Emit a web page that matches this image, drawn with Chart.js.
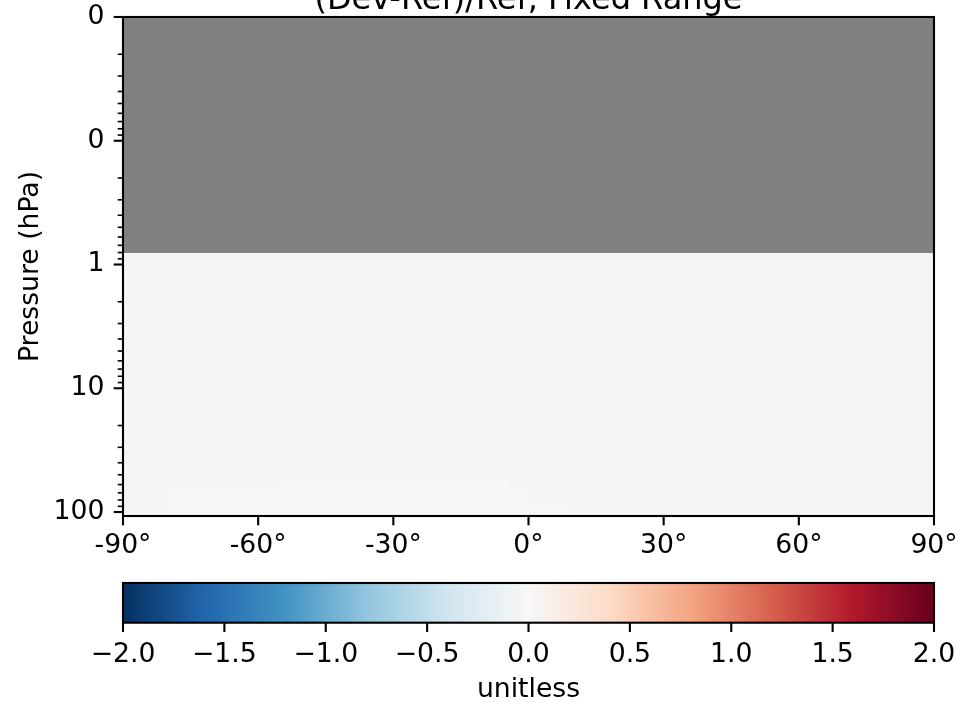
<!DOCTYPE html>
<html><head><meta charset="utf-8">
<script src="https://cdn.jsdelivr.net/npm/chart.js@4.4.0/dist/chart.umd.min.js"></script>
<style>
html,body{margin:0;padding:0;background:#fff;overflow:hidden;width:957px;height:703px;}
#main{position:absolute;left:0;top:0;}
#cbar{position:absolute;left:0;top:560px;}
</style></head><body>
<canvas id="main" width="957" height="560"></canvas>
<canvas id="cbar" width="957" height="143"></canvas>
<script>
// ---------- data ----------
const titleText = '(Dev-Ref)/Ref, Fixed Range';
const yAxisLabel = 'Pressure (hPa)';
const colorbarLabel = 'unitless';

const latitudeEdges = [-90, -80, -56, -32, -4, 0, 8, 30, 60, 90];
const latitudeTicks = [-90, -60, -30, 0, 30, 60, 90];

// pressure cell edges (hPa), top to bottom; above 0.8 hPa there is no data
const pressureEdges = [0.8, 2, 5, 12, 30, 55, 65, 78, 92, 108];
const pressureRange = [0.01, 107.7];
const pressureMajorTicks = [0.01, 0.1, 1, 10, 100];
const pressureMajorLabels = ['0', '0', '1', '10', '100'];
const pressureMinorTicks = [0.02,0.03,0.04,0.05,0.06,0.07,0.08,0.09,
                            0.2,0.3,0.4,0.5,0.6,0.7,0.8,0.9,
                            2,3,4,5,6,7,8,9,
                            20,30,40,50,60,70,80,90];

// relative difference per pressure row (top to bottom), per latitude bin
const row_0p8_2   = [-0.03,-0.03,-0.03,-0.03,-0.03,-0.03,-0.03,-0.03,-0.03];
const row_2_5     = [-0.03,-0.03,-0.03,-0.03,-0.03,-0.03,-0.03,-0.03,-0.03];
const row_5_12    = [-0.03,-0.03,-0.03,-0.03,-0.03,-0.03,-0.03,-0.03,-0.03];
const row_12_30   = [-0.03,-0.03,-0.03,-0.03,-0.03,-0.03,-0.03,-0.03,-0.03];
const row_30_55   = [-0.03,-0.03,-0.03,-0.03,-0.03,-0.03,-0.03,-0.03,-0.03];
const row_55_65   = [-0.03,-0.03,-0.015,-0.015,-0.03,-0.03,-0.03,-0.03,-0.03];
const row_65_78   = [-0.03,-0.015,-0.015,-0.015,-0.015,-0.03,-0.03,-0.03,-0.03];
const row_78_92   = [-0.03,-0.015,-0.015,-0.015,-0.015,-0.015,-0.03,-0.03,-0.03];
const row_92_108  = [-0.015,-0.015,-0.015,-0.015,-0.015,-0.015,-0.015,-0.03,-0.03];
const relDiffRows = [row_0p8_2, row_2_5, row_5_12, row_12_30, row_30_55, row_55_65, row_65_78, row_78_92, row_92_108];

const colorbarRange = [-2, 2];
const colorbarTicks = [-2, -1.5, -1, -0.5, 0, 0.5, 1, 1.5, 2];
const rdbuR = ['#053061','#2166ac','#4393c3','#92c5de','#d1e5f0','#f7f7f7','#fddbc7','#f4a582','#d6604d','#b2182b','#67001f'];
const missingColor = '#808080';

// ---------- helpers ----------
const FONT = 'DejaVu Sans';
const FS = 26.67;
function hexRgb(h){return [parseInt(h.slice(1,3),16),parseInt(h.slice(3,5),16),parseInt(h.slice(5,7),16)];}
function cmap(v){
  const t = Math.min(1, Math.max(0, (v - colorbarRange[0]) / (colorbarRange[1] - colorbarRange[0])));
  const n = rdbuR.length - 1;
  const f = t * n;
  const i = Math.min(n - 1, Math.floor(f));
  const u = f - i;
  const a = hexRgb(rdbuR[i]), b = hexRgb(rdbuR[i + 1]);
  return 'rgb(' + [0,1,2].map(k => Math.round(a[k] + (b[k] - a[k]) * u)).join(',') + ')';
}

const mainPlugin = {
  id: 'heatmap',
  beforeDatasetsDraw(chart) {
    const {ctx, chartArea: ca, scales: {x, y}} = chart;
    ctx.save();
    ctx.beginPath(); ctx.rect(ca.left, ca.top, ca.right - ca.left, ca.bottom - ca.top); ctx.clip();
    ctx.fillStyle = missingColor;
    ctx.fillRect(ca.left, ca.top, ca.right - ca.left, ca.bottom - ca.top);
    relDiffRows.forEach((row, i) => {
      const y0 = Math.round(y.getPixelForValue(pressureEdges[i]));
      const y1 = Math.round(y.getPixelForValue(pressureEdges[i + 1]));
      row.forEach((v, j) => {
        const x0 = Math.round(x.getPixelForValue(latitudeEdges[j]));
        const x1 = Math.round(x.getPixelForValue(latitudeEdges[j + 1]));
        ctx.fillStyle = cmap(v);
        ctx.fillRect(x0, Math.min(y0, y1), x1 - x0, Math.abs(y1 - y0));
      });
    });
    ctx.restore();
  },
  afterDraw(chart) {
    const {ctx, chartArea: ca, scales: {x, y}} = chart;
    ctx.save();
    ctx.strokeStyle = '#000';
    ctx.lineWidth = 2.1;
    latitudeTicks.forEach(v => {
      const px = x.getPixelForValue(v);
      ctx.beginPath(); ctx.moveTo(px, ca.bottom); ctx.lineTo(px, ca.bottom + 9.3); ctx.stroke();
    });
    pressureMajorTicks.forEach(v => {
      const py = y.getPixelForValue(v);
      ctx.beginPath(); ctx.moveTo(ca.left, py); ctx.lineTo(ca.left - 9.3, py); ctx.stroke();
    });
    ctx.lineWidth = 1.6;
    pressureMinorTicks.forEach(v => {
      const py = y.getPixelForValue(v);
      ctx.beginPath(); ctx.moveTo(ca.left, py); ctx.lineTo(ca.left - 5.3, py); ctx.stroke();
    });
    ctx.lineWidth = 2.1;
    ctx.strokeRect(ca.left, ca.top, ca.right - ca.left, ca.bottom - ca.top);
    ctx.fillStyle = '#000';
    ctx.font = '32px "' + FONT + '"';
    ctx.textAlign = 'center';
    ctx.textBaseline = 'alphabetic';
    ctx.fillText(titleText, (ca.left + ca.right) / 2, 9);
    ctx.restore();
  }
};

const main = new Chart(document.getElementById('main'), {
  type: 'scatter',
  data: { datasets: [{ data: [] }] },
  options: {
    responsive: false, animation: false, devicePixelRatio: 1,
    layout: { padding: { left: 0, right: 23, top: 17, bottom: 0 } },
    plugins: { legend: { display: false }, tooltip: { enabled: false }, title: { display: false } },
    scales: {
      x: {
        type: 'linear', min: latitudeTicks[0], max: latitudeTicks[latitudeTicks.length - 1],
        afterBuildTicks: s => { s.ticks = latitudeTicks.map(v => ({ value: v })); },
        afterFit: s => { s.height = 560 - 516; s.paddingLeft = 0; s.paddingRight = 0; },
        grid: { display: false, drawTicks: false },
        border: { display: false },
        ticks: { autoSkip: false, maxRotation: 0, padding: 14, color: '#000',
                 font: { family: FONT, size: FS }, callback: v => v + '°' }
      },
      y: {
        type: 'logarithmic', reverse: true, min: pressureRange[0], max: pressureRange[1],
        afterBuildTicks: s => {
          s.ticks = pressureMajorTicks.concat(pressureMinorTicks).sort((a, b) => a - b).map(v => ({ value: v }));
        },
        afterFit: s => { s.width = 123; s.paddingTop = 0; s.paddingBottom = 0; },
        grid: { display: false, drawTicks: false },
        border: { display: false },
        ticks: { autoSkip: false, padding: 18.5, color: '#000', font: { family: FONT, size: FS },
                 callback: v => { const k = pressureMajorTicks.findIndex(m => Math.abs(m - v) < m * 1e-6); return k >= 0 ? pressureMajorLabels[k] : ''; } },
        title: { display: true, text: yAxisLabel, color: '#000', font: { family: FONT, size: FS },
                 padding: { top: 14.6, bottom: 0 } }
      }
    }
  },
  plugins: [mainPlugin]
});

const cbarPlugin = {
  id: 'colorbar',
  beforeDatasetsDraw(chart) {
    const {ctx, chartArea: ca, scales: {x}} = chart;
    const xa = x.getPixelForValue(colorbarRange[0]);
    const xb = x.getPixelForValue(colorbarRange[1]);
    const g = ctx.createLinearGradient(xa, 0, xb, 0);
    rdbuR.forEach((c, k) => g.addColorStop(k / (rdbuR.length - 1), c));
    ctx.fillStyle = g;
    ctx.fillRect(xa, ca.top, xb - xa, ca.bottom - ca.top);
  },
  afterDraw(chart) {
    const {ctx, chartArea: ca, scales: {x}} = chart;
    ctx.save();
    ctx.strokeStyle = '#000';
    ctx.lineWidth = 2.1;
    colorbarTicks.forEach(v => {
      const px = x.getPixelForValue(v);
      ctx.beginPath(); ctx.moveTo(px, ca.bottom); ctx.lineTo(px, ca.bottom + 9.3); ctx.stroke();
    });
    ctx.strokeRect(ca.left, ca.top, ca.right - ca.left, ca.bottom - ca.top);
    ctx.restore();
  }
};

const cbar = new Chart(document.getElementById('cbar'), {
  type: 'scatter',
  data: { datasets: [{ data: [] }] },
  options: {
    responsive: false, animation: false, devicePixelRatio: 1,
    layout: { padding: { left: 123, right: 23, top: 23, bottom: 0 } },
    plugins: { legend: { display: false }, tooltip: { enabled: false } },
    scales: {
      x: {
        type: 'linear', min: colorbarRange[0], max: colorbarRange[1],
        afterBuildTicks: s => { s.ticks = colorbarTicks.map(v => ({ value: v })); },
        afterFit: s => { s.height = 143 - 62.7; s.paddingLeft = 0; s.paddingRight = 0; },
        grid: { display: false, drawTicks: false },
        border: { display: false },
        ticks: { autoSkip: false, maxRotation: 0, padding: 16.5, color: '#000',
                 font: { family: FONT, size: FS }, callback: v => v.toFixed(1).replace('-', '\u2212') },
        title: { display: true, text: colorbarLabel, color: '#000', font: { family: FONT, size: FS },
                 padding: { top: 0, bottom: -3 } }
      },
      y: { display: false, min: 0, max: 1 }
    }
  },
  plugins: [cbarPlugin]
});
</script>
</body></html>
